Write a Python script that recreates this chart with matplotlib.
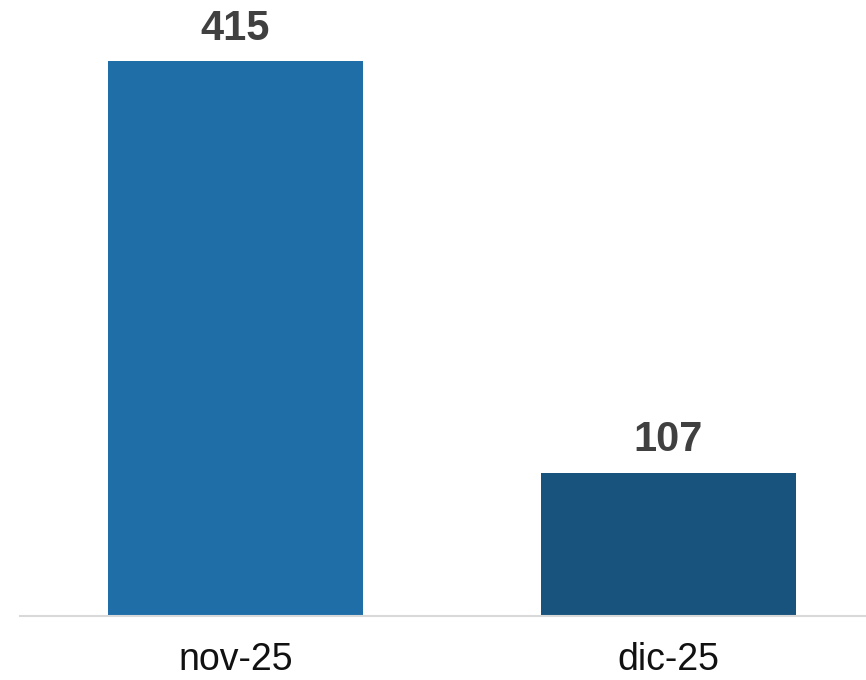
import matplotlib
matplotlib.use("Agg")
import matplotlib.pyplot as plt

categories = ["nov-25", "dic-25"]
values = [415, 107]
colors = ["#1F6EA7", "#18537D"]

plt.rcParams['font.family'] = ['Liberation Sans', 'DejaVu Sans']

W, H = 866, 680
fig = plt.figure(figsize=(W / 100, H / 100), dpi=100)
ax = fig.add_axes([20 / W, 64 / H, (W - 20) / W, (H - 64) / H])

x = list(range(len(categories)))
ax.bar(x, values, width=255 / 433, color=colors)
ax.set_xlim(-(235.5 - 20) / 433, 1 + (866 - 668.5) / 433)
ax.set_ylim(0, 415 * 616 / 555)

for xi, v in zip(x, values):
    ax.annotate(str(v), (xi, v), xytext=(0, 9), textcoords="offset points",
                ha="center", va="bottom", fontsize=30, fontweight="bold", color="#404040")

ax.set_xticks(x)
ax.set_xticklabels(categories, fontsize=27, color="#111111")
ax.tick_params(axis="x", length=0, pad=19)
ax.set_yticks([])
for s in ["top", "right", "left"]:
    ax.spines[s].set_visible(False)
ax.spines["bottom"].set_color("#d9d9d9")
ax.spines["bottom"].set_linewidth(1.5)

fig.savefig("out.png", dpi=100)
